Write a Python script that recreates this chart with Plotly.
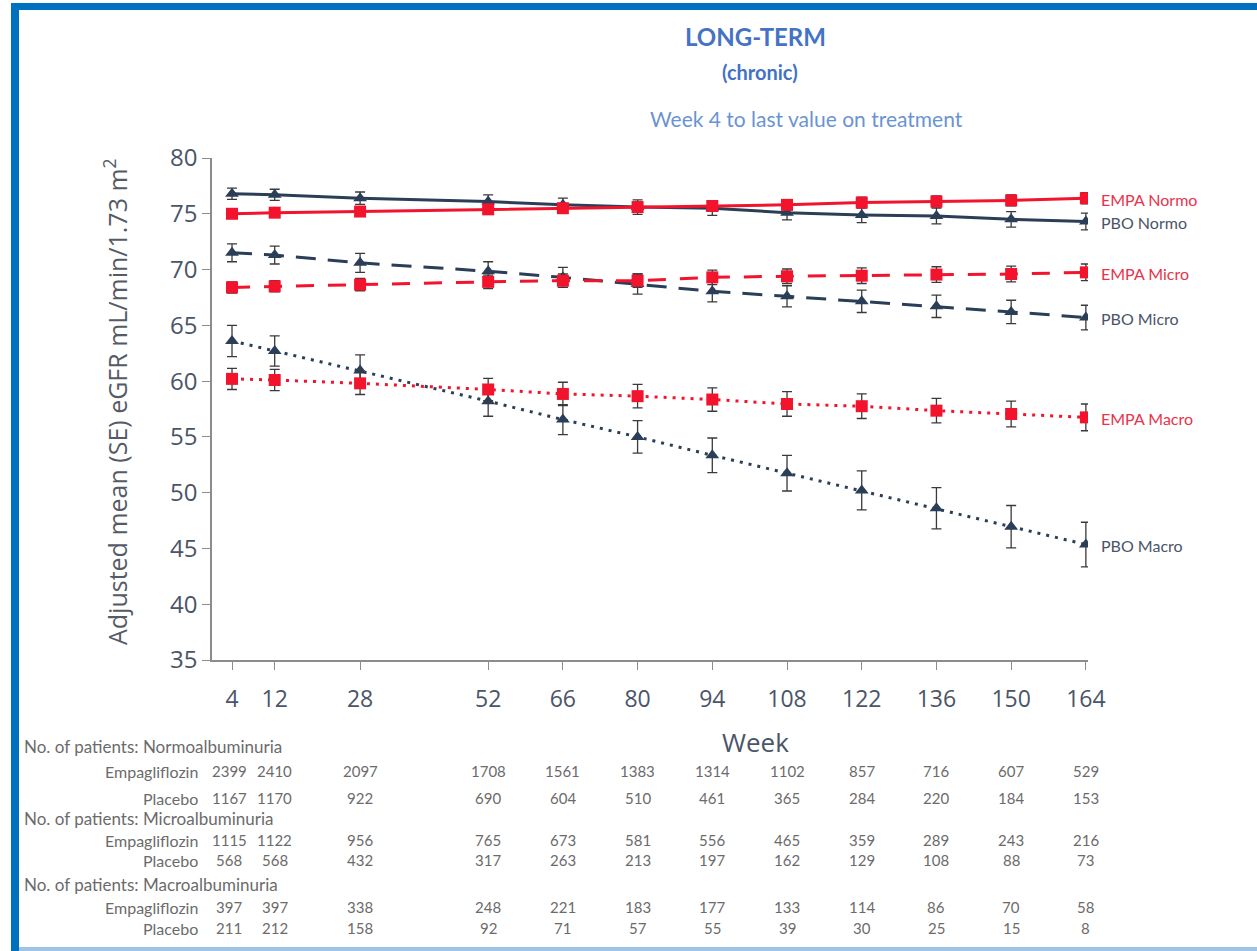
import plotly.graph_objects as go

# ---------------- data ----------------
WEEKS = [4, 12, 28, 52, 66, 80, 94, 108, 122, 136, 150, 164]

EMPA_NORMO = [75.0, 75.1, 75.2, 75.4, 75.5, 75.6, 75.7, 75.8, 76.0, 76.1, 76.2, 76.4]
EMPA_NORMO_SE = [0.35, 0.35, 0.4, 0.4, 0.4, 0.45, 0.45, 0.45, 0.5, 0.5, 0.5, 0.5]
PBO_NORMO = [76.8, 76.7, 76.4, 76.1, 75.8, 75.6, 75.5, 75.1, 74.9, 74.8, 74.5, 74.3]
PBO_NORMO_SE = [0.5, 0.5, 0.55, 0.6, 0.6, 0.65, 0.65, 0.65, 0.7, 0.7, 0.7, 0.75]

EMPA_MICRO = [68.4, 68.5, 68.65, 68.9, 69.0, 69.0, 69.3, 69.4, 69.45, 69.55, 69.6, 69.75]
EMPA_MICRO_SE = [0.5, 0.5, 0.55, 0.6, 0.6, 0.6, 0.65, 0.65, 0.7, 0.7, 0.7, 0.75]
PBO_MICRO = [71.5, 71.3, 70.6, 69.85, 69.3, 68.7, 68.05, 67.6, 67.15, 66.7, 66.2, 65.7]
PBO_MICRO_SE = [0.8, 0.8, 0.85, 0.85, 0.9, 0.9, 0.95, 0.95, 1.0, 1.0, 1.05, 1.1]

EMPA_MACRO = [60.2, 60.1, 59.8, 59.25, 58.85, 58.65, 58.35, 57.95, 57.75, 57.35, 57.05, 56.75]
EMPA_MACRO_SE = [0.95, 0.95, 1.0, 1.0, 1.05, 1.05, 1.05, 1.1, 1.1, 1.1, 1.15, 1.2]
PBO_MACRO = [63.6, 62.7, 60.95, 58.2, 56.55, 55.0, 53.35, 51.75, 50.2, 48.6, 46.95, 45.35]
PBO_MACRO_SE = [1.4, 1.35, 1.4, 1.35, 1.35, 1.45, 1.55, 1.6, 1.75, 1.85, 1.9, 2.0]

Y_TICKS = [35, 40, 45, 50, 55, 60, 65, 70, 75, 80]

N_NORMO_EMPA = [2399, 2410, 2097, 1708, 1561, 1383, 1314, 1102, 857, 716, 607, 529]
N_NORMO_PBO = [1167, 1170, 922, 690, 604, 510, 461, 365, 284, 220, 184, 153]
N_MICRO_EMPA = [1115, 1122, 956, 765, 673, 581, 556, 465, 359, 289, 243, 216]
N_MICRO_PBO = [568, 568, 432, 317, 263, 213, 197, 162, 129, 108, 88, 73]
N_MACRO_EMPA = [397, 397, 338, 248, 221, 183, 177, 133, 114, 86, 70, 58]
N_MACRO_PBO = [211, 212, 158, 92, 71, 57, 55, 39, 30, 25, 15, 8]

# ---------------- style ----------------
W, H = 1257, 951
L, R, T, B = 212, 1088, 158, 660
RED = "#F2142C"
NAVY = "#2B3E57"
TXT = "#4A5568"
ERR = "#3A3A3A"
BLUE = "#0070C0"


def px(x):
    return (x - L) / (R - L)


def py(y):
    return (B - y) / (B - T)


fig = go.Figure()
annotations = []

series = [
    ("PBO Normo", PBO_NORMO, PBO_NORMO_SE, NAVY, "solid", "triangle-up", 12),
    ("PBO Micro", PBO_MICRO, PBO_MICRO_SE, NAVY, "20px,12px", "triangle-up", 12),
    ("PBO Macro", PBO_MACRO, PBO_MACRO_SE, NAVY, "3px,6px", "triangle-up", 12),
    ("EMPA Normo", EMPA_NORMO, EMPA_NORMO_SE, RED, "solid", "square", 12),
    ("EMPA Micro", EMPA_MICRO, EMPA_MICRO_SE, RED, "18px,14px", "square", 12),
    ("EMPA Macro", EMPA_MACRO, EMPA_MACRO_SE, RED, "3px,6px", "square", 12),
]

for name, ys, se, col, dash, sym, size in series:
    fig.add_trace(go.Scatter(
        x=WEEKS, y=ys, name=name, mode="lines+markers",
        line=dict(color=col, width=3, dash=dash),
        marker=dict(symbol=sym, size=size, color=col, line=dict(width=0)),
        error_y=dict(type="data", array=se, visible=True, color=ERR,
                     thickness=1.3, width=5),
        showlegend=False,
    ))
    annotations.append(dict(
        x=WEEKS[-1], y=ys[-1], xref="x", yref="y", text=name,
        showarrow=False, xanchor="left", yanchor="middle", xshift=13, yshift=-1,
        font=dict(family="Lato, Open Sans, sans-serif", size=16,
                  color=("#E8334C" if col == RED else TXT)),
    ))


def centered(x, y, text, font, **kw):
    d = dict(x=x, y=y, xref="paper", yref="paper", text=text, showarrow=False,
             xanchor="center", yanchor="middle", font=font)
    d.update(kw)
    return d


# titles
annotations.append(centered(px(755), py(36), "<b>LONG-TERM</b>",
                            dict(family="Lato, sans-serif", size=24, color="#4472C4")))
annotations.append(centered(px(760), py(72), "<b>(chronic)</b>",
                            dict(family="Lato, sans-serif", size=20, color="#4472C4")))
annotations.append(centered(px(806), py(118), "Week 4 to last value on treatment",
                            dict(family="Lato, sans-serif", size=21, color="#6A93D4")))
# y title
annotations.append(centered(px(115), py(402),
                            "Adjusted mean (SE) eGFR mL/min/1.73 m<sup>2</sup>",
                            dict(family="Open Sans, sans-serif", size=25, color="#555B66"),
                            textangle=-90))
# x title
annotations.append(centered(px(755), py(742), "Week",
                            dict(family="Open Sans, sans-serif", size=26, color=TXT)))

HEAD_FONT = dict(family="Lato, Open Sans, sans-serif", size=17, color="#6B6B6B")
ROW_FONT = dict(family="Lato, Open Sans, sans-serif", size=16, color="#6B6B6B")
NUM_FONT = dict(family="Lato, Open Sans, sans-serif", size=15, color="#6B6B6B")
table = [
    ("No. of patients: Normoalbuminuria", None, 746),
    ("Empagliflozin", N_NORMO_EMPA, 771),
    ("Placebo", N_NORMO_PBO, 798),
    ("No. of patients: Microalbuminuria", None, 818),
    ("Empagliflozin", N_MICRO_EMPA, 840),
    ("Placebo", N_MICRO_PBO, 860),
    ("No. of patients: Macroalbuminuria", None, 884),
    ("Empagliflozin", N_MACRO_EMPA, 907),
    ("Placebo", N_MACRO_PBO, 928),
]
for label, vals, ypix in table:
    if vals is None:
        annotations.append(dict(x=px(22), y=py(ypix), xref="paper", yref="paper",
                                text=label, showarrow=False, xanchor="left",
                                yanchor="middle", font=HEAD_FONT))
    else:
        annotations.append(dict(x=px(200), y=py(ypix), xref="paper", yref="paper",
                                text=label, showarrow=False, xanchor="right",
                                yanchor="middle", font=ROW_FONT))
        for i, (wk, v) in enumerate(zip(WEEKS, vals)):
            annotations.append(dict(x=wk, y=py(ypix), xref="x", yref="paper",
                                    text=str(v), showarrow=False,
                                    xanchor="center", yanchor="middle",
                                    xshift=(-3 if i == 0 else 0),
                                    font=NUM_FONT))

shapes = [
    dict(type="rect", xref="paper", yref="paper", x0=px(11), x1=px(W + 5), y0=py(3), y1=py(10),
         fillcolor=BLUE, line=dict(width=0), layer="above"),
    dict(type="rect", xref="paper", yref="paper", x0=px(11), x1=px(19), y0=py(3), y1=py(H + 5),
         fillcolor=BLUE, line=dict(width=0), layer="above"),
    dict(type="rect", xref="paper", yref="paper", x0=px(19), x1=px(W + 5), y0=py(947), y1=py(H + 5),
         fillcolor="#9DC3E6", line=dict(width=0), layer="above"),
]

fig.update_layout(
    width=W, height=H,
    margin=dict(l=L, r=W - R, t=T, b=H - B),
    paper_bgcolor="white", plot_bgcolor="white",
    xaxis=dict(range=[0.25, 164.4], tickmode="array", tickvals=WEEKS,
               ticktext=[str(w) for w in WEEKS],
               showline=True, linecolor="#8C8C8C", linewidth=1.5,
               ticks="outside", ticklen=8, tickcolor="#8C8C8C",
               showgrid=False, zeroline=False, ticklabelstandoff=10,
               tickfont=dict(family="Open Sans, sans-serif", size=23, color=TXT)),
    yaxis=dict(range=[35, 80], tickmode="array", tickvals=Y_TICKS,
               showline=True, linecolor="#8C8C8C", linewidth=1.5,
               ticks="outside", ticklen=8, tickcolor="#8C8C8C",
               showgrid=False, zeroline=False,
               tickfont=dict(family="Open Sans, sans-serif", size=24, color=TXT)),
    annotations=annotations,
    shapes=shapes,
)

fig.write_html(
    "out.html",
    config={"displayModeBar": False},
    post_script="document.body.style.margin='0';document.body.style.overflow='hidden';",
)
